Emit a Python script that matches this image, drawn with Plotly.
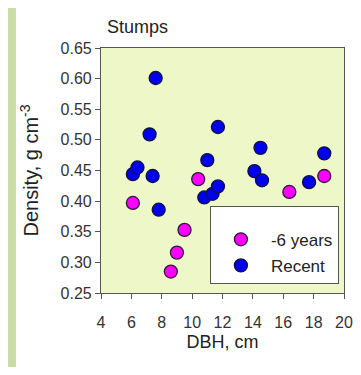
import plotly.graph_objects as go

old_dbh = [6.1, 8.6, 9.0, 9.5, 10.4, 16.4, 18.7]
old_density = [0.397, 0.285, 0.316, 0.353, 0.436, 0.415, 0.441]

recent_dbh = [6.1, 6.4, 7.2, 7.4, 7.6, 7.8, 10.8, 11.0, 11.35, 11.7, 11.7, 14.1, 14.5, 14.6, 17.7, 18.7]
recent_density = [0.444, 0.455, 0.509, 0.441, 0.601, 0.386, 0.406, 0.467, 0.412, 0.424, 0.521, 0.449, 0.487, 0.434, 0.431, 0.478]

x_ticks = [4, 6, 8, 10, 12, 14, 16, 18, 20]
y_ticks = [0.25, 0.30, 0.35, 0.40, 0.45, 0.50, 0.55, 0.60, 0.65]

FONT = "Liberation Sans, Arial, sans-serif"

fig = go.Figure()
fig.add_trace(go.Scatter(
    x=old_dbh, y=old_density, mode="markers", name="-6 years",
    legendgroup="a",
    marker=dict(color="#FF00FF", size=13, line=dict(color="#2a1a3a", width=1.3)),
))
fig.add_trace(go.Scatter(
    x=recent_dbh, y=recent_density, mode="markers", name="Recent",
    legendgroup="b",
    marker=dict(color="#0000EE", size=13, line=dict(color="#101040", width=1.3)),
))

axis_common = dict(
    showgrid=False, zeroline=False, showline=True, linecolor="#555555", linewidth=1.2,
    mirror=True, ticks="outside", ticklen=5, tickcolor="#555555", tickwidth=1.2,
    tickfont=dict(family=FONT, size=16, color="#333333"), automargin=False,
)

W, H = 345, 359  # page body has an 8px margin
fig.update_layout(
    width=W, height=H,
    margin=dict(l=93, r=9, t=40, b=74),
    paper_bgcolor="#CADDA5",
    plot_bgcolor="#EEF7C8",
    font=dict(family=FONT, color="#333333"),
    title=dict(text="Stumps", font=dict(family=FONT, size=18, color="#222222"),
               x=0.025, xref="paper", xanchor="left", y=1 - 19 / H, yref="container", yanchor="middle",
               automargin=False),
    xaxis=dict(range=[4, 20], tickvals=x_ticks, ticktext=[str(v) for v in x_ticks],
               ticklabelstandoff=10,
               title=dict(text="DBH, cm", font=dict(family=FONT, size=18, color="#222222"), standoff=5),
               **axis_common),
    yaxis=dict(range=[0.25, 0.65], tickvals=y_ticks, ticktext=[f"{v:.2f}" for v in y_ticks],
               title=dict(text="Density, g cm<sup>-3</sup>", font=dict(family=FONT, size=20, color="#222222"), standoff=16),
               **axis_common),
    showlegend=True,
    legend=dict(x=0.979, xanchor="right", y=0.035, yanchor="bottom",
                bgcolor="white", bordercolor="#555555", borderwidth=1,
                font=dict(family=FONT, size=17, color="#222222"),
                title=dict(text=" ", font=dict(size=11)),
                traceorder="grouped", tracegroupgap=1, indentation=0, itemwidth=50),
    shapes=[
        dict(type="rect", xref="paper", yref="paper", x0=-0.35, x1=1.3, y0=-0.6, y1=1.3,
             fillcolor="white", line=dict(width=0), layer="below"),
        dict(type="rect", xref="paper", yref="paper", x0=0, x1=1, y0=0, y1=1,
             fillcolor="#EEF7C8", line=dict(width=0), layer="below"),
    ],
)

fig.write_html("out.html")
